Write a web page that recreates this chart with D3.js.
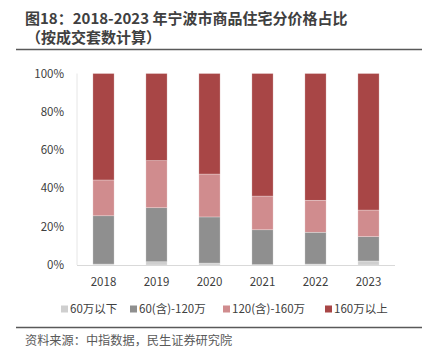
<!DOCTYPE html>
<html><head><meta charset="utf-8">
<script src="https://cdn.jsdelivr.net/npm/d3@7"></script>
<style>body{margin:0;background:#fff;}svg{display:block;font-family:"Microsoft YaHei","Noto Sans CJK SC","Noto Sans",sans-serif;}</style>
</head><body><svg id="c" width="423" height="350"></svg>
<script>
const years = ["2018","2019","2020","2021","2022","2023"];
const seriesNames = ["60万以下","60(含)-120万","120(含)-160万","160万以上"];
const below60 = [0.5, 1.7, 1.0, 0.2, 0.5, 2.1];
const r60to120 = [25.2, 28.2, 24.1, 18.2, 16.6, 12.7];
const r120to160 = [18.7, 24.6, 22.4, 17.6, 16.7, 13.9];
const above160 = [55.6, 45.5, 52.5, 64.0, 66.2, 71.3];
const yTicks = [0, 20, 40, 60, 80, 100];
const colors = ["#cfcfcf", "#8f8f8f", "#d08c8e", "#a84646"];

const svg = d3.select("#c");
const rows = years.map((y,i)=>({year:y, s0:below60[i], s1:r60to120[i], s2:r120to160[i], s3:above160[i]}));
const stack = d3.stack().keys(["s0","s1","s2","s3"])(rows);

const x = d3.scaleBand().domain(years).range([77, 395]).paddingInner(0.6).paddingOuter(0.3);
const y = d3.scaleLinear().domain([0,100]).range([265, 73.5]);

// title
svg.append("text").attr("x",25).attr("y",24).attr("font-size",15).attr("font-weight","bold").attr("fill","#404040")
  .text("图18：2018-2023 年宁波市商品住宅分价格占比");
svg.append("text").attr("x",26).attr("y",43).attr("font-size",15).attr("font-weight","bold").attr("fill","#404040")
  .text("（按成交套数计算）");
svg.append("line").attr("x1",16).attr("x2",422).attr("y1",49.5).attr("y2",49.5).attr("stroke","#595959").attr("stroke-width",1.3);

// y axis labels
svg.append("g").selectAll("text").data(yTicks).join("text")
  .attr("x",64).attr("y",d=>y(d)).attr("dy","0.35em").attr("text-anchor","end")
  .attr("font-size",11.5).attr("fill","#404040").text(d=>d+"%");

// left axis line (faint)
svg.append("line").attr("x1",77).attr("x2",77).attr("y1",y(100)).attr("y2",y(0)).attr("stroke","#e6e6e6");

// bars
svg.append("g").selectAll("g").data(stack).join("g").attr("fill",(d,i)=>colors[i])
  .selectAll("rect").data(d=>d).join("rect")
  .attr("x",d=>x(d.data.year)).attr("width",x.bandwidth())
  .attr("y",d=>y(d[1])).attr("height",d=>y(d[0])-y(d[1]))
  .attr("stroke","#ffffff").attr("stroke-opacity",0.45).attr("stroke-width",0.6);

// x axis line
svg.append("line").attr("x1",77).attr("x2",395).attr("y1",265.5).attr("y2",265.5).attr("stroke","#d9d9d9").attr("stroke-width",1);

// x labels
svg.append("g").selectAll("text").data(years).join("text")
  .attr("x",d=>x(d)+x.bandwidth()/2).attr("y",282).attr("dy","0.35em").attr("text-anchor","middle")
  .attr("font-size",11.5).attr("fill","#404040").text(d=>d);

// legend
const legX = [61, 130, 223, 325];
const leg = svg.append("g").selectAll("g").data(seriesNames).join("g")
  .attr("transform",(d,i)=>`translate(${legX[i]},309)`);
leg.append("rect").attr("x",0).attr("y",-3.5).attr("width",7).attr("height",7).attr("fill",(d,i)=>colors[i]);
leg.append("text").attr("x",9).attr("y",0).attr("dy","0.35em").attr("font-size",11.5).attr("fill","#404040").text(d=>d);

// bottom line + source
svg.append("line").attr("x1",16).attr("x2",422).attr("y1",327.5).attr("y2",327.5).attr("stroke","#595959").attr("stroke-width",1.3);
svg.append("text").attr("x",25).attr("y",341).attr("dy","0.35em").attr("font-size",12.2).attr("fill","#595959")
  .text("资料来源：中指数据，民生证券研究院");
</script></body></html>
